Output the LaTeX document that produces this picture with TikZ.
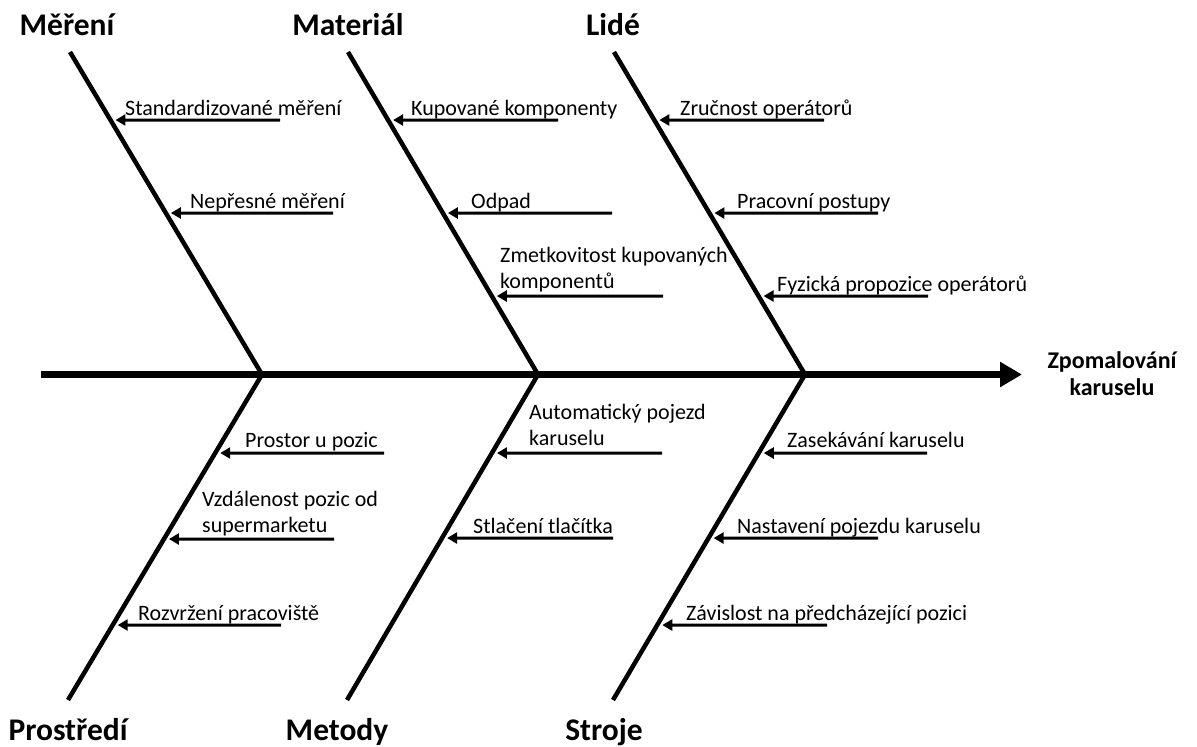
\documentclass[tikz,border=0pt]{standalone}
\usepackage{fontspec}
\setmainfont{Carlito}
\usetikzlibrary{arrows.meta,calc}

\begin{document}
\begin{tikzpicture}[x=1pt,y=-1pt,
  spine/.style={line width=7pt,-{Triangle[length=22pt,width=24pt]}},
  bone/.style={line width=4.5pt},
  cause/.style={line width=3pt,-{Triangle[length=10pt,width=11pt]}},
  lbl/.style={anchor=base west,inner sep=0pt,align=left,font=\fontsize{22}{25.5}\selectfont},
  cat/.style={anchor=base,inner sep=0pt,font=\bfseries\fontsize{31.5}{36}\selectfont},
  effect/.style={anchor=base,inner sep=0pt,align=center,font=\bfseries\fontsize{24}{27}\selectfont}]
\useasboundingbox (0,0) rectangle (1197,747);

% spine and effect (base anchor sits on the last line)
\coordinate (tail) at (41,374.5);
\coordinate (head) at (1022,374.5);
\node[effect] (eff) at (1112,395) {Zpomalování\\karuselu};
\draw[spine] (tail) -- (head);

% bone ends: top (t), junction (j), bottom (b)
\coordinate (t1) at (70,52);   \coordinate (j1) at (262,374.5); \coordinate (b1) at (68,700);
\coordinate (t2) at (348,52);  \coordinate (j2) at (538,374.5); \coordinate (b2) at (347,700);
\coordinate (t3) at (614,52);  \coordinate (j3) at (805,374.5); \coordinate (b3) at (613,700);

\foreach \i in {1,2,3} {
  \draw[bone] (t\i) -- (j\i);
  \draw[bone] (j\i) -- (b\i);
}

% category titles
\node[cat] (c1) at (67,35)  {Měření};
\node[cat] (c2) at (348,35) {Materiál};
\node[cat] (c3) at (613,35) {Lidé};
\node[cat] (c4) at (68,740)  {Prostředí};
\node[cat] (c5) at (337,740) {Metody};
\node[cat] (c6) at (604,740) {Stroje};

% cause arrow: #1 name, #2/#3 bone ends, #4 y, #5 start x
\newcommand{\causearrow}[5]{%
  \coordinate (#1s) at (#5,#4);
  \coordinate (#1t) at ($(intersection of #2--#3 and {0,#4}--{10,#4})+(5,0)$);
  \draw[cause] (#1s) -- (#1t);
}

% Měření
\node[lbl] (m1) at (125,115) {Standardizované měření};
\causearrow{am1}{t1}{j1}{120}{280}
\node[lbl] (m2) at (190,208) {Nepřesné měření};
\causearrow{am2}{t1}{j1}{213}{333}

% Materiál
\node[lbl] (ma1) at (411,115) {Kupované komponenty};
\causearrow{ama1}{t2}{j2}{120}{558}
\node[lbl] (ma2) at (471,208) {Odpad};
\causearrow{ama2}{t2}{j2}{213}{612}
\node[lbl] (ma3) at (500,288) {Zmetkovitost kupovaných\\komponentů};
\causearrow{ama3}{t2}{j2}{296}{663}

% Lidé
\node[lbl] (l1) at (680,115) {Zručnost operátorů};
\causearrow{al1}{t3}{j3}{120}{824}
\node[lbl] (l2) at (737,208) {Pracovní postupy};
\causearrow{al2}{t3}{j3}{213}{878}
\node[lbl] (l3) at (777,291) {Fyzická propozice operátorů};
\causearrow{al3}{t3}{j3}{296}{928}

% Prostředí
\node[lbl] (p1) at (245,447) {Prostor u pozic};
\causearrow{ap1}{j1}{b1}{453}{384}
\node[lbl] (p2) at (202,532) {Vzdálenost pozic od\\supermarketu};
\causearrow{ap2}{j1}{b1}{539}{334}
\node[lbl] (p3) at (138,620) {Rozvržení pracoviště};
\causearrow{ap3}{j1}{b1}{625}{281}

% Metody
\node[lbl] (me1) at (529,445) {Automatický pojezd\\karuselu};
\causearrow{ame1}{j2}{b2}{453}{662}
\node[lbl] (me2) at (473,533) {Stlačení tlačítka};
\causearrow{ame2}{j2}{b2}{538}{613}

% Stroje
\node[lbl] (s1) at (787,447) {Zasekávání karuselu};
\causearrow{as1}{j3}{b3}{453}{927}
\node[lbl] (s2) at (737,533) {Nastavení pojezdu karuselu};
\causearrow{as2}{j3}{b3}{538}{878}
\node[lbl] (s3) at (686,620) {Závislost na předcházející pozici};
\causearrow{as3}{j3}{b3}{625}{827}
\end{tikzpicture}
\end{document}
